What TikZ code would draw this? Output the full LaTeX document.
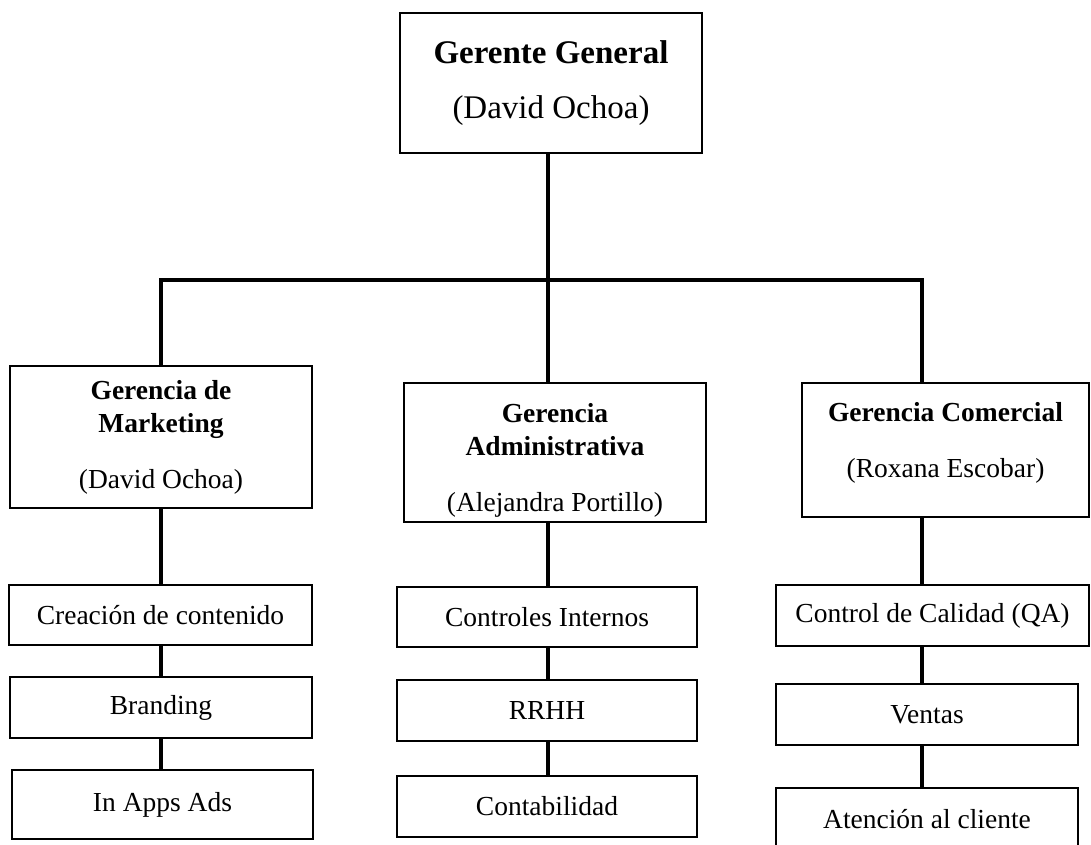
\documentclass[tikz,border=0pt]{standalone}
\usepackage{fontspec}
\setmainfont{Liberation Serif}
\usepackage{tikz}

\begin{document}
\begin{tikzpicture}[x=1pt, y=-1pt,
    box/.style={draw, line width=2.6pt, inner sep=0pt, align=center, font=\fontsize{27.5}{33}\selectfont},
    link/.style={line width=3.4pt}]
    \useasboundingbox (0, 0) rectangle (1091, 844);
    \clip (0, 0) rectangle (1091, 844);
    \coordinate (colA) at (161, 0);
    \coordinate (colB) at (548, 0);
    \coordinate (colC) at (922, 0);
    \coordinate (bus) at (0, 280);

    \node[box, minimum width=302pt, minimum height=140pt, font=\fontsize{33}{40}\selectfont] (gg) at (551, 83) {\textbf{Gerente General}\\[15pt](David Ochoa)};

    \node[box, minimum width=302pt, minimum height=142pt] (mkt) at (161, 437) {\textbf{Gerencia de}\\\textbf{Marketing}\\[23pt](David Ochoa)};
    \node[box, minimum width=302pt, minimum height=139pt] (adm) at (555, 452.5) {\rule{0pt}{34pt}\textbf{Gerencia}\\\textbf{Administrativa}\\[23pt](Alejandra Portillo)};
    \node[box, minimum width=287pt, minimum height=134pt] (com) at (945.5, 450) {\textbf{Gerencia Comercial}\\[23pt](Roxana Escobar)\rule[-20pt]{0pt}{0pt}};

    \node[box, minimum width=303pt, minimum height=60pt] (crea) at (160.5, 615) {Creación de contenido};
    \node[box, minimum width=302pt, minimum height=61pt] (brand) at (161, 707.5) {Branding};
    \node[box, minimum width=301pt, minimum height=69pt] (ads) at (162.5, 804.5) {In Apps Ads};

    \node[box, minimum width=300pt, minimum height=60pt] (ctrl) at (547, 617) {Controles Internos};
    \node[box, minimum width=300pt, minimum height=61pt] (rrhh) at (547, 710.5) {RRHH};
    \node[box, minimum width=300pt, minimum height=61pt] (cont) at (547, 806.5) {Contabilidad};

    \node[box, minimum width=313pt, minimum height=61pt] (qa) at (932.5, 615.5) {Control de Calidad (QA)};
    \node[box, minimum width=302pt, minimum height=61pt] (vent) at (927, 714.5) {Ventas};
    \node[box, minimum width=302pt, minimum height=62pt] (aten) at (927, 819) {Atención al cliente};

    \draw[link] (colB |- gg.south) -- (colB |- adm.north);
    \draw[link] (colA |- mkt.north) -- (colA |- bus) -- (colC |- bus) -- (colC |- com.north);

    \draw[link] (colA |- mkt.south) -- (colA |- crea.north);
    \draw[link] (colA |- crea.south) -- (colA |- brand.north);
    \draw[link] (colA |- brand.south) -- (colA |- ads.north);

    \draw[link] (colB |- adm.south) -- (colB |- ctrl.north);
    \draw[link] (colB |- ctrl.south) -- (colB |- rrhh.north);
    \draw[link] (colB |- rrhh.south) -- (colB |- cont.north);

    \draw[link] (colC |- com.south) -- (colC |- qa.north);
    \draw[link] (colC |- qa.south) -- (colC |- vent.north);
    \draw[link] (colC |- vent.south) -- (colC |- aten.north);
\end{tikzpicture}
\end{document}
